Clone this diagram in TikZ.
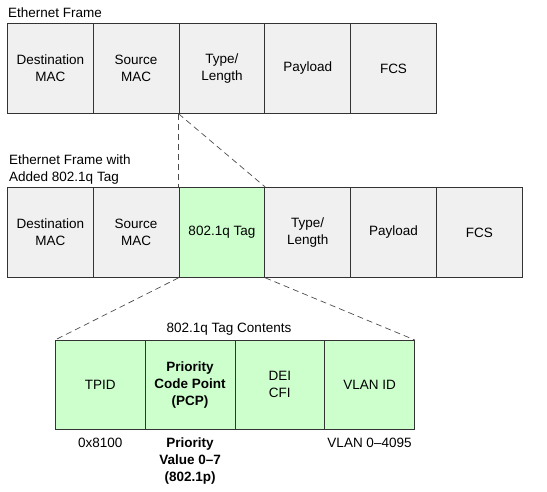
\documentclass[tikz,border=0pt]{standalone}
\usepackage{fontspec}
\setmainfont{Liberation Sans}
\usepackage{xcolor}
\usetikzlibrary{positioning}
\definecolor{fieldgray}{HTML}{F0F0F0}
\definecolor{taggreen}{HTML}{CCFFCC}
\definecolor{borderdark}{HTML}{333333}
\tikzset{
    txt/.style={font=\fontsize{13.5}{17}\selectfont, inner sep=0pt, align=center},
    boldtxt/.style={txt, font=\fontsize{13.5}{17}\selectfont\bfseries},
    field/.style={txt, draw=borderdark, line width=0.8pt, fill=fieldgray, minimum width=85.8pt, minimum height=90pt},
    tagfield/.style={field, fill=taggreen},
    tcifield/.style={tagfield, minimum width=89.75pt, minimum height=89pt},
    zoomline/.style={draw=black!70, line width=0.7pt, dash pattern=on 6pt off 4pt}
}
\begin{document}
\begin{tikzpicture}[x=1pt,y=-1pt]
        \useasboundingbox (0,0) rectangle (547,492);
        % plain frame
        \node[txt, anchor=base west] (frametitle) at (8,18) {Ethernet Frame};
        \node[field, anchor=north west] (fr1) at (7,23) {Destination\\MAC};
        \node[field, right=-0.8pt of fr1] (fr2) {Source\\MAC};
        \node[field, right=-0.8pt of fr2] (fr3) {Type/\\Length};
        \node[field, right=-0.8pt of fr3] (fr4) {Payload};
        \node[field, right=-0.8pt of fr4] (fr5) {FCS};
        % tagged frame
        \node[txt, align=left, anchor=south west] (taggedtitle) at (9,185) {Ethernet Frame with\\Added 802.1q Tag};
        \node[field, anchor=north west] (tg1) at (7,187) {Destination\\MAC};
        \node[field, right=-0.8pt of tg1] (tg2) {Source\\MAC};
        \node[tagfield, right=-0.8pt of tg2] (tg3) {802.1q Tag};
        \node[field, right=-0.8pt of tg3] (tg4) {Type/\\Length};
        \node[field, right=-0.8pt of tg4] (tg5) {Payload};
        \node[field, right=-0.8pt of tg5] (tg6) {FCS};
        % tag contents
        \node[txt, anchor=base] (tcititle) at (229,333) {802.1q Tag Contents};
        \node[tcifield, anchor=north west] (tc1) at (55,340) {TPID};
        \node[tcifield, boldtxt, right=-0.8pt of tc1] (tc2) {Priority\\Code Point\\(PCP)};
        \node[tcifield, right=-0.8pt of tc2] (tc3) {DEI\\CFI};
        \node[tcifield, right=-0.8pt of tc3] (tc4) {VLAN ID};
        \node[txt, below=8pt of tc1] (tpidval) {0x8100};
        \node[boldtxt, below=8pt of tc2] (pcpval) {Priority\\Value 0–7\\(802.1p)};
        \node[txt, below=8pt of tc4] (vlanval) {VLAN 0–4095};
        \path[zoomline]
        (fr3.south west) edge (tg3.north west)
        (fr3.south west) edge (tg3.north east)
        (tg3.south west) edge (tc1.north west)
        (tg3.south east) edge (tc4.north east);
    \end{tikzpicture}
\end{document}
